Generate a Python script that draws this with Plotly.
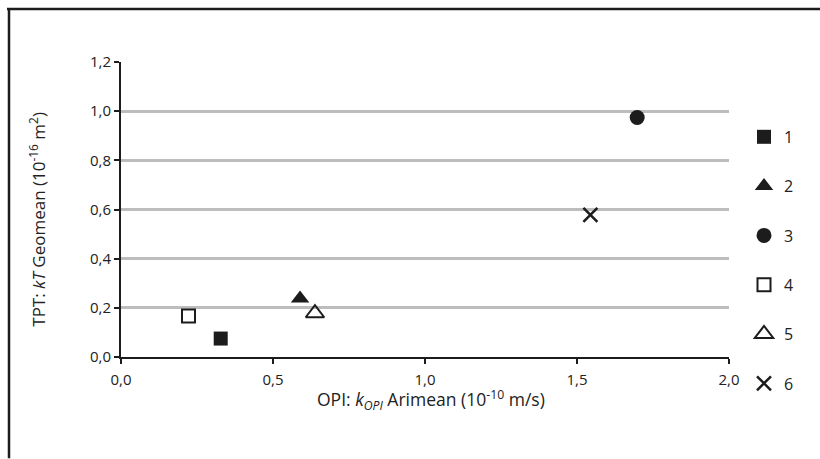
import plotly.graph_objects as go

# Data
series_names = ["1", "2", "3", "4", "5", "6"]
x_vals = [0.328, 0.589, 1.698, 0.222, 0.638, 1.544]
y_vals = [0.075, 0.238, 0.974, 0.167, 0.178, 0.578]
symbols = ["square", "triangle-up", "circle", "square-open", "triangle-up-open", "x-thin-open"]
sizes = [14, 16, 15, 13, 16, 14]

x_ticks = [0.0, 0.5, 1.0, 1.5, 2.0]
x_tick_labels = ["0,0", "0,5", "1,0", "1,5", "2,0"]
y_ticks = [0.0, 0.2, 0.4, 0.6, 0.8, 1.0, 1.2]
y_tick_labels = ["0,0", "0,2", "0,4", "0,6", "0,8", "1,0", "1,2"]
grid_vals = [0.2, 0.4, 0.6, 0.8, 1.0]

x_title = "OPI: <i>k</i><sub><i>OPI</i></sub> Arimean (10<sup>-10</sup> m/s)"
y_title = "TPT: <i>kT</i> Geomean (10<sup>-16</sup> m<sup>2</sup>)"

FONT = "Open Sans"
INK = "#1c1c1c"
TXT = "#222"

fig = go.Figure()
for i, name in enumerate(series_names):
    sym = symbols[i]
    lw = 2 if "open" in sym else 0
    if sym == "x-thin-open":
        lw = 2.5
    fig.add_trace(go.Scatter(
        x=[x_vals[i]], y=[y_vals[i]], mode="markers", name=name,
        legendgroup=name,
        marker=dict(symbol=sym, size=sizes[i], color=INK,
                    line=dict(color=INK, width=lw)),
        xaxis="x", yaxis="y",
    ))

# invisible trace on grid axis
fig.add_trace(go.Scatter(x=[None], y=[None], xaxis="x", yaxis="y2",
                         showlegend=False, hoverinfo="skip"))

def px_x(p):
    return (p - 121) / 608

def px_y(p):
    return (357.5 - p) / 295.5

fig.update_layout(
    width=820, height=459,
    margin=dict(l=121, r=91, t=62, b=101.5),
    paper_bgcolor="white", plot_bgcolor="white",
    font=dict(family=FONT, color=TXT, size=15),
    showlegend=True,
    legend=dict(x=px_x(744), y=px_y(120), xanchor="left", yanchor="top",
                tracegroupgap=25.5, font=dict(size=16, family=FONT, color=TXT),
                bgcolor="rgba(0,0,0,0)", itemwidth=30),
    xaxis=dict(range=[0, 2.0], tickvals=x_ticks, ticktext=x_tick_labels,
               showgrid=False, zeroline=False, showline=True, linecolor=INK,
               linewidth=2, ticks="outside", ticklen=5, tickwidth=1.5,
               tickcolor=INK, ticklabelstandoff=3,
               tickfont=dict(size=15, family=FONT, color=TXT)),
    yaxis=dict(range=[0, 1.2], tickvals=y_ticks, ticktext=y_tick_labels,
               showgrid=False, zeroline=False, showline=True, linecolor=INK,
               linewidth=2, ticks="outside", ticklen=5, tickwidth=1.5,
               tickcolor=INK, tickfont=dict(size=15, family=FONT, color=TXT)),
    yaxis2=dict(range=[0, 1.2], overlaying="y", tickvals=grid_vals,
                showgrid=True, gridcolor="#bdbdbd", gridwidth=2.5,
                showticklabels=False, zeroline=False, showline=False, layer="below traces"),
    annotations=[
        dict(text=x_title, xref="paper", yref="paper", x=px_x(431), y=px_y(401),
             xanchor="center", yanchor="middle", showarrow=False,
             font=dict(size=17.5, family=FONT, color=TXT)),
        dict(text=y_title, xref="paper", yref="paper", x=px_x(38), y=px_y(220),
             xanchor="center", yanchor="middle", showarrow=False, textangle=-90,
             font=dict(size=17, family=FONT, color=TXT)),
    ],
    shapes=[
        dict(type="line", xref="paper", yref="paper", x0=px_x(7), x1=px_x(820),
             y0=px_y(9), y1=px_y(9), line=dict(color=INK, width=2.5)),
        dict(type="line", xref="paper", yref="paper", x0=px_x(9), x1=px_x(9),
             y0=px_y(8), y1=px_y(459), line=dict(color=INK, width=2.5)),
    ],
)

fig.write_html("out.html")
